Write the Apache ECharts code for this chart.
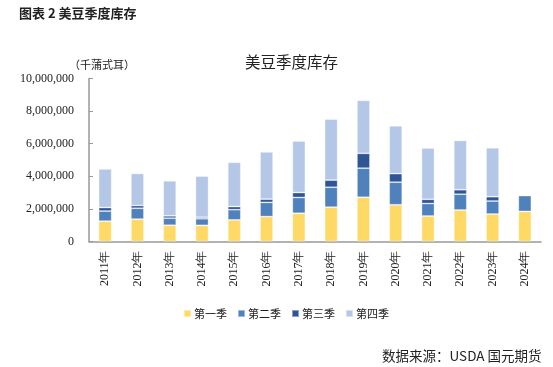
<!DOCTYPE html>
<html><head><meta charset="utf-8">
<script src="https://cdn.jsdelivr.net/npm/echarts@6/dist/echarts.min.js"></script>
<style>html,body{margin:0;padding:0;background:#fff}#c{width:553px;height:367px}</style>
</head><body><div id="c"></div>
<script>
const categories = ['2011年','2012年','2013年','2014年','2015年','2016年','2017年','2018年','2019年','2020年','2021年','2022年','2023年','2024年'];
const q1 = [1249000,1374000,998000,992000,1327000,1531000,1735000,2107000,2716000,2253000,1564000,1931000,1685000,1845000];
const q2 = [619000,667000,435000,405000,625000,870000,966000,1222000,1783000,1386000,767000,971000,796000,970000];
const q3 = [215000,169000,141000,92000,191000,197000,302000,438000,909000,525000,257000,274000,268000,null];
const q4 = [2370000,1966000,2150000,2524000,2715000,2899000,3161000,3743000,3252000,2933000,3149000,3022000,3000000,null];
const seriesNames = ['第一季','第二季','第三季','第四季'];
const yTicks = [0,2000000,4000000,6000000,8000000,10000000];

const colors = ['#FFD966','#4F81BD','#2F5597','#B4C7E7'];
const serif = '"Liberation Serif","DejaVu Serif",serif';
const cjk = '"Noto Sans CJK SC","Noto Sans",sans-serif';
const chart = echarts.init(document.getElementById('c'));
const mk = (name, data, i) => ({
  name, type:'bar', stack:'s', data, barWidth:13,
  itemStyle:{color:colors[i], borderColor:'rgba(255,255,255,0.45)', borderWidth:0.8},
  emphasis:{disabled:true}
});
chart.setOption({
  animation:false,
  title:[
    {text:'图表 2 美豆季度库存', left:14, top:2, textStyle:{fontSize:13, fontWeight:'bold', color:'#222', fontFamily:cjk}},
    {text:'美豆季度库存', left:240, top:49, textStyle:{fontSize:15.5, fontWeight:'normal', color:'#222', fontFamily:cjk}},
    {text:'（千蒲式耳）', left:64, top:54, textStyle:{fontSize:11, fontWeight:'normal', color:'#222', fontFamily:cjk}},
    {text:'数据来源：USDA 国元期货', left:377, top:344, textStyle:{fontSize:13.5, fontWeight:'normal', color:'#222', fontFamily:cjk}}
  ],
  legend:{
    data:seriesNames, top:303, left:178, itemWidth:7, itemHeight:7, itemGap:10,
    icon:'rect', textStyle:{fontSize:11, color:'#222', fontFamily:cjk, padding:[0,0,0,-2]}
  },
  grid:{left:89, right:12, top:78.5, bottom:125.5, containLabel:false},
  xAxis:{
    type:'category', data:categories,
    axisLine:{lineStyle:{color:'#999', width:1.5}},
    axisTick:{inside:true, length:4, lineStyle:{color:'#999'}},
    axisLabel:{rotate:90, margin:9, fontSize:12, color:'#222', fontFamily:serif, interval:0}
  },
  yAxis:{
    type:'value', min:yTicks[0], max:yTicks[yTicks.length-1], interval:yTicks[1]-yTicks[0],
    splitLine:{show:false},
    axisLine:{show:true, lineStyle:{color:'#999', width:1.5}},
    axisTick:{show:true, inside:true, length:4, lineStyle:{color:'#999'}},
    axisLabel:{margin:15, fontSize:12, color:'#222', fontFamily:serif,
      formatter:v=>v.toLocaleString('en-US')}
  },
  series:[mk(seriesNames[0],q1,0),mk(seriesNames[1],q2,1),mk(seriesNames[2],q3,2),mk(seriesNames[3],q4,3)]
});
</script></body></html>
